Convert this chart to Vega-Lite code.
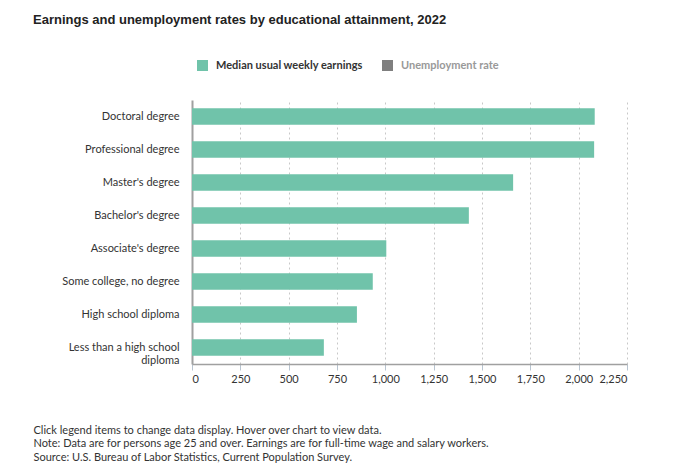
{
  "$schema": "https://vega.github.io/schema/vega-lite/v6.json",
  "width": 435,
  "height": 264,
  "padding": {"left": 33, "top": 14, "right": 10, "bottom": 8},
  "background": "white",
  "title": {
    "text": "Earnings and unemployment rates by educational attainment, 2022",
    "anchor": "start",
    "frame": "bounds",
    "font": "Liberation Sans",
    "fontSize": 13,
    "fontWeight": "bold",
    "color": "#222",
    "offset": 33
  },
  "data": {
    "values": [
      {"education": "Doctoral degree", "series": "Median usual weekly earnings", "earnings": 2083},
      {"education": "Professional degree", "series": "Median usual weekly earnings", "earnings": 2080},
      {"education": "Master's degree", "series": "Median usual weekly earnings", "earnings": 1661},
      {"education": "Bachelor's degree", "series": "Median usual weekly earnings", "earnings": 1432},
      {"education": "Associate's degree", "series": "Median usual weekly earnings", "earnings": 1005},
      {"education": "Some college, no degree", "series": "Median usual weekly earnings", "earnings": 935},
      {"education": "High school diploma", "series": "Median usual weekly earnings", "earnings": 853},
      {"education": "Less than a high school diploma", "series": "Median usual weekly earnings", "earnings": 682}
    ]
  },
  "mark": {"type": "bar"},
  "encoding": {
    "y": {
      "field": "education",
      "type": "nominal",
      "sort": null,
      "scale": {"paddingInner": 0.5, "paddingOuter": 0.25},
      "axis": {
        "title": null,
        "ticks": false,
        "domainColor": "#a0a0a0",
        "domainWidth": 2,
        "labelFont": "Lato",
        "labelFontSize": 11,
        "labelColor": "#333",
        "labelPadding": 13,
        "labelLimit": 300,
        "labelLineHeight": 13,
        "labelExpr": "datum.label == 'Less than a high school diploma' ? ['Less than a high school', 'diploma'] : datum.label"
      }
    },
    "x": {
      "field": "earnings",
      "type": "quantitative",
      "scale": {"domain": [0, 2250], "nice": false},
      "axis": {
        "values": [0, 250, 500, 750, 1000, 1250, 1500, 1750, 2000, 2250],
        "format": ",d",
        "grid": true,
        "gridColor": "#c8c8c8",
        "gridDash": [2, 3],
        "domainColor": "#a0a0a0",
        "domainWidth": 1.5,
        "tickColor": "#b8c4d0",
        "tickSize": 6,
        "labelFont": "Lato",
        "labelFontSize": 11,
        "labelColor": "#333",
        "labelPadding": 3,
        "title": [
          "Click legend items to change data display. Hover over chart to view data.",
          "Note: Data are for persons age 25 and over. Earnings are for full-time wage and salary workers.",
          "Source: U.S. Bureau of Labor Statistics, Current Population Survey."
        ],
        "titleFont": "Lato",
        "titleFontSize": 11,
        "titleFontWeight": "normal",
        "titleColor": "#333",
        "titleAlign": "left",
        "titleAnchor": "start",
        "titleBaseline": "top",
        "titleLineHeight": 13.5,
        "titleX": -159,
        "titleY": 60
      }
    },
    "color": {
      "field": "series",
      "type": "nominal",
      "scale": {
        "domain": ["Median usual weekly earnings", "Unemployment rate"],
        "range": ["#70c3aa", "#7f7f7f"]
      },
      "legend": {
        "title": null,
        "orient": "none",
        "direction": "horizontal",
        "legendX": 5,
        "legendY": -40,
        "symbolType": "square",
        "symbolSize": 121,
        "symbolStrokeWidth": 0,
        "symbolOpacity": 1,
        "labelFont": "Lato",
        "labelFontSize": 11,
        "labelFontWeight": "bold",
        "columnPadding": 19,
        "labelOffset": 8,
        "encode": {
          "labels": {"update": {"fill": {"signal": "datum.value === 'Unemployment rate' ? '#999999' : '#333333'"}}},
          "symbols": {"update": {"fill": {"signal": "datum.value === 'Unemployment rate' ? '#7f7f7f' : '#70c3aa'"}, "opacity": {"value": 1}}}
        }
      }
    }
  },
  "config": {"view": {"stroke": null}}
}
